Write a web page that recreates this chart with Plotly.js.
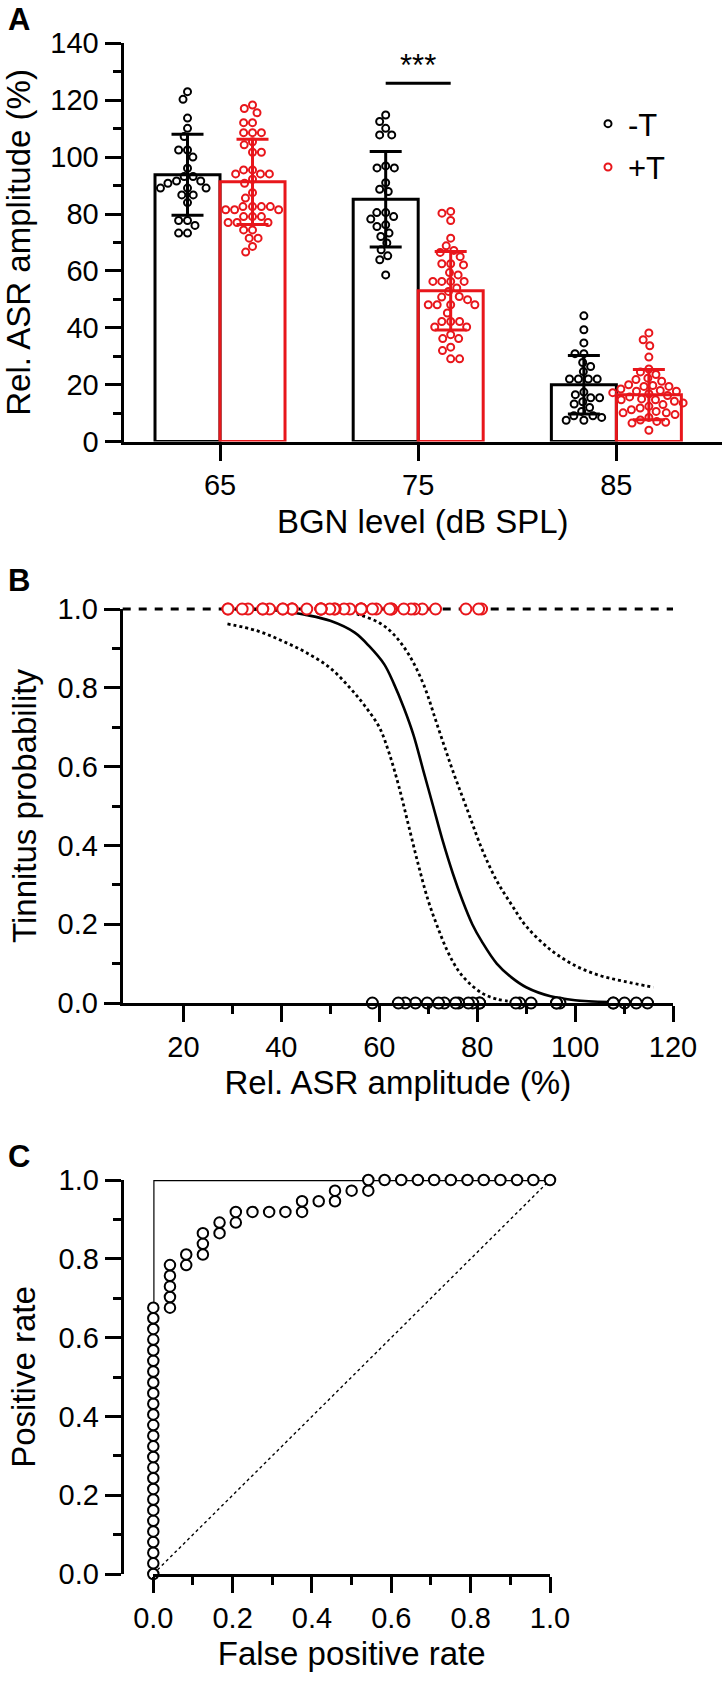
<!DOCTYPE html>
<html>
<head>
<meta charset="utf-8">
<script src="https://cdn.plot.ly/plotly-3.0.1.min.js"></script>
<style>
  body { margin: 0; background: #fff; }
  #chart { width: 723px; height: 1686px; }
</style>
</head>
<body>
<div id="chart"></div>
<script>
// ---- panel A: relative ASR amplitude per background noise level ----
var bgn_levels = ['65', '75', '85'];

var mean_noT = [93.8, 85.2, 20.0];
var sd_noT = [14.2, 16.8, 10.3];
var mean_T = [91.3, 53.0, 16.5];
var sd_T = [15.0, 13.8, 8.8];

// single animals, -T
var noT_65 = [123.0, 120.3, 113.7, 110.1, 107.2, 102.5, 102.5, 100.0, 96.1, 93.2, 93.2, 91.6, 91.6,
  90.8, 89.1, 89.1, 89.1, 86.7, 86.7, 84.0, 77.7, 77.7, 76.0, 73.3, 73.3];
var noT_75 = [114.8, 112.5, 110.1, 107.8, 107.8, 96.9, 96.2, 96.2, 91.0, 88.7, 87.9, 80.5, 80.5,
  79.1, 78.2, 76.2, 75.6, 73.3, 72.1, 69.8, 67.4, 65.3, 63.9, 58.6];
var noT_85 = [44.2, 39.3, 34.7, 30.9, 30.9, 27.8, 26.4, 24.6, 22.0, 22.0, 22.0, 22.0, 17.4, 16.5,
  15.4, 15.4, 14.0, 13.2, 12.0, 10.6, 9.1, 9.1, 8.5, 7.5, 7.5];

// single animals, +T
var T_65 = [118.3, 117.1, 115.6, 112.1, 112.1, 108.6, 108.6, 108.6, 105.4, 104.3, 101.7, 101.7,
  95.5, 95.5, 94.1, 94.1, 94.1, 92.2, 90.8, 87.5, 85.6, 82.6, 82.6, 82.6, 82.6, 81.5, 81.5, 81.5,
  79.1, 79.1, 79.1, 77.0, 77.0, 77.0, 74.4, 74.4, 71.5, 71.5, 68.6, 66.6];
var T_75 = [80.9, 80.3, 77.7, 71.5, 68.8, 67.2, 66.5, 65.0, 62.5, 62.5, 62.1, 59.4, 58.6, 56.3,
  56.3, 56.3, 56.3, 54.0, 52.8, 51.0, 50.8, 49.9, 48.1, 48.1, 48.1, 48.1, 45.2, 42.2, 42.2, 42.2,
  40.3, 40.3, 37.6, 36.2, 36.2, 33.2, 32.0, 29.1, 29.1];
var T_85 = [38.2, 35.8, 33.7, 29.7, 25.5, 24.5, 23.6, 22.3, 21.8, 21.2, 20.0, 19.7, 19.4, 19.4,
  18.5, 18.0, 17.7, 17.7, 17.2, 16.8, 16.2, 15.7, 15.0, 14.7, 14.7, 14.2, 13.6, 13.0, 12.4, 11.8,
  11.2, 10.6, 10.1, 10.1, 9.5, 8.5, 7.6, 7.1, 6.8, 6.5, 4.0];

// ---- panel B: logistic fit and its band ----
var fit_x = [29, 40, 45, 50, 55, 58, 61, 63, 65, 67, 69, 71, 73, 75, 77, 79, 81, 84, 87, 90, 95, 100, 108, 116];
var fit_y = [1.0, 0.995, 0.985, 0.97, 0.94, 0.905, 0.86, 0.81, 0.75, 0.68, 0.59, 0.50, 0.41, 0.33,
  0.26, 0.20, 0.155, 0.10, 0.065, 0.04, 0.017, 0.007, 0.002, 0.0005];
var ci_hi_x = [53, 56, 60, 63, 66, 69, 72, 75, 78, 81, 84, 87, 90, 95, 100, 105, 110, 116];
var ci_hi_y = [0.995, 0.985, 0.965, 0.935, 0.885, 0.81, 0.70, 0.59, 0.49, 0.39, 0.31, 0.25, 0.195,
  0.135, 0.095, 0.07, 0.055, 0.04];
var ci_lo_x = [29, 35, 40, 45, 50, 54, 57, 60, 62, 64, 66, 68, 70, 72, 74, 76, 78, 81, 84, 88];
var ci_lo_y = [0.962, 0.945, 0.92, 0.89, 0.85, 0.80, 0.755, 0.70, 0.635, 0.55, 0.45, 0.35, 0.26,
  0.19, 0.13, 0.085, 0.055, 0.025, 0.01, 0.002];

// ---- panel C: ROC ----
var roc_fpr = [0, 0, 0, 0, 0, 0, 0, 0, 0, 0, 0, 0, 0, 0, 0, 0, 0, 0, 0, 0, 0, 0, 0, 0, 0, 0,
  0.042, 0.042, 0.042, 0.042, 0.042, 0.083, 0.083, 0.125, 0.125, 0.125, 0.167, 0.167, 0.208, 0.208,
  0.25, 0.292, 0.333, 0.375, 0.375, 0.417, 0.458, 0.458, 0.5, 0.542, 0.542,
  0.583, 0.625, 0.667, 0.708, 0.75, 0.792, 0.833, 0.875, 0.917, 0.958, 1.0];
var roc_tpr = [0, 0.027, 0.054, 0.081, 0.108, 0.135, 0.162, 0.189, 0.216, 0.243, 0.270, 0.297, 0.324,
  0.351, 0.378, 0.405, 0.432, 0.459, 0.486, 0.514, 0.541, 0.568, 0.595, 0.622, 0.649, 0.676,
  0.676, 0.703, 0.730, 0.757, 0.784, 0.784, 0.811, 0.811, 0.838, 0.865, 0.865, 0.892, 0.892, 0.919,
  0.919, 0.919, 0.919, 0.919, 0.946, 0.946, 0.946, 0.973, 0.973, 0.973, 1.0,
  1.0, 1.0, 1.0, 1.0, 1.0, 1.0, 1.0, 1.0, 1.0, 1.0, 1.0];
var ideal_fpr = [0, 0, 1];
var ideal_tpr = [0, 1, 1];
var chance_fpr = [0, 1];
var chance_tpr = [0, 1];

// page geometry (px)
var W = 723, H = 1686;
var FONT = 'Arial, "Liberation Sans", sans-serif';
var RED = '#e8161b';

var a_x = [123.5, 722], a_y = [43.3, 441.6], a_xr = [-0.487, 2.533], a_yr = [0, 140];
var b_x = [122.7, 673], b_y = [609, 1003], b_xr = [7.6, 120];
var c_yaxis = 121.7, c_x = [153.3, 550], c_y = [1180, 1574];

function xdom(p) { return [p[0] / W, p[1] / W]; }
function ydom(p) { return [1 - p[1] / H, 1 - p[0] / H]; }

var half_bar = 0.164;

// simple beeswarm, worked out in pixels, returns x in data units
function swarm(values, center, pxX, pxY, d) {
  var order = values.map(function (v, i) { return i; })
    .sort(function (a, b) { return values[b] - values[a]; });
  var placed = [];
  var xs = new Array(values.length);
  order.forEach(function (i) {
    var y = values[i] * pxY;
    var cands = [0];
    placed.forEach(function (p) {
      var dy = Math.abs(p.y - y);
      if (dy < d) {
        var dx = Math.sqrt(d * d - dy * dy);
        cands.push(p.x + dx, p.x - dx);
      }
    });
    cands.sort(function (a, b) { return Math.abs(a) - Math.abs(b) || a - b; });
    var x = cands.find(function (c) {
      return placed.every(function (p) { return Math.hypot(p.x - c, p.y - y) >= d - 1e-6; });
    });
    placed.push({ x: x, y: y });
    xs[i] = center + x / pxX;
  });
  return xs;
}

var pxX = (a_x[1] - a_x[0]) / (a_xr[1] - a_xr[0]);
var pxY = (a_y[1] - a_y[0]) / (a_yr[1] - a_yr[0]);

var groups_noT = [noT_65, noT_75, noT_85];
var groups_T = [T_65, T_75, T_85];

var data = [];

data.push({
  type: 'bar', x: [0, 1, 2], y: mean_noT, width: 2 * half_bar, offset: -2 * half_bar,
  marker: { color: 'rgba(0,0,0,0)', line: { color: 'black', width: 3 } },
  error_y: { type: 'data', array: sd_noT, color: 'black', thickness: 3, width: 16 },
  showlegend: false, hoverinfo: 'skip', xaxis: 'x', yaxis: 'y'
});
data.push({
  type: 'bar', x: [0, 1, 2], y: mean_T, width: 2 * half_bar, offset: 0,
  marker: { color: 'rgba(0,0,0,0)', line: { color: RED, width: 3 } },
  error_y: { type: 'data', array: sd_T, color: RED, thickness: 3, width: 16 },
  showlegend: false, hoverinfo: 'skip', xaxis: 'x', yaxis: 'y'
});

function swarmTrace(groups, sign, color, name) {
  var xs = [], ys = [];
  groups.forEach(function (vals, g) {
    xs = xs.concat(swarm(vals, g + sign * half_bar, pxX, pxY, 8.9));
    ys = ys.concat(vals);
  });
  return {
    type: 'scatter', mode: 'markers', x: xs, y: ys, name: name, showlegend: true,
    marker: { symbol: 'circle-open', size: 7, color: color, line: { width: 2, color: color } },
    cliponaxis: false, xaxis: 'x', yaxis: 'y'
  };
}
data.push(swarmTrace(groups_noT, -1, 'black', '-T'));
data.push(swarmTrace(groups_T, 1, RED, '+T'));

// panel B
data.push({ type: 'scatter', mode: 'lines', x: ci_lo_x, y: ci_lo_y, line: { color: 'black', width: 2.8, dash: 'dot', shape: 'spline' },
  showlegend: false, xaxis: 'x2', yaxis: 'y2' });
data.push({ type: 'scatter', mode: 'lines', x: ci_hi_x, y: ci_hi_y, line: { color: 'black', width: 2.8, dash: 'dot', shape: 'spline' },
  showlegend: false, xaxis: 'x2', yaxis: 'y2' });
data.push({ type: 'scatter', mode: 'lines', x: fit_x, y: fit_y, line: { color: 'black', width: 2.6, shape: 'spline' },
  showlegend: false, xaxis: 'x2', yaxis: 'y2' });
data.push({ type: 'scatter', mode: 'markers', x: noT_75, y: noT_75.map(function () { return 0; }),
  marker: { symbol: 'circle', size: 11, color: 'white', line: { width: 2, color: 'black' } },
  cliponaxis: false, showlegend: false, xaxis: 'x2', yaxis: 'y2' });
data.push({ type: 'scatter', mode: 'markers', x: T_75, y: T_75.map(function () { return 1; }),
  marker: { symbol: 'circle', size: 11, color: 'white', line: { width: 2, color: RED } },
  cliponaxis: false, showlegend: false, xaxis: 'x2', yaxis: 'y2' });

// panel C
data.push({ type: 'scatter', mode: 'lines', x: chance_fpr, y: chance_tpr, line: { color: 'black', width: 1.4, dash: 'dot' },
  showlegend: false, xaxis: 'x3', yaxis: 'y3' });
data.push({ type: 'scatter', mode: 'lines', x: ideal_fpr, y: ideal_tpr, line: { color: 'black', width: 2.4 },
  showlegend: false, xaxis: 'x3', yaxis: 'y3' });
data.push({ type: 'scatter', mode: 'markers', x: roc_fpr, y: roc_tpr,
  marker: { symbol: 'circle', size: 10.5, color: 'white', line: { width: 2, color: 'black' } },
  cliponaxis: false, showlegend: false, xaxis: 'x3', yaxis: 'y3' });

var tickFont = { family: FONT, size: 29, color: 'black' };
var titleFont = { family: FONT, size: 33, color: 'black' };

function axisBase(extra) {
  var ax = {
    showline: true, linewidth: 3, linecolor: 'black', ticks: 'outside', ticklen: 16, tickwidth: 3,
    tickcolor: 'black', showgrid: false, zeroline: false, tickfont: tickFont, fixedrange: true
  };
  for (var k in extra) ax[k] = extra[k];
  return ax;
}
var minor = function (dt) { return { ticks: 'outside', ticklen: 8, tickwidth: 3, tickcolor: 'black', dtick: dt, showgrid: false }; };

var layout = {
  width: W, height: H, margin: { l: 0, r: 0, t: 0, b: 0 },
  paper_bgcolor: 'white', plot_bgcolor: 'white',
  font: { family: FONT, color: 'black' },
  showlegend: true,
  legend: { x: 588 / W, y: 1 - 97 / H, xanchor: 'left', yanchor: 'top', font: { family: FONT, size: 31 },
    bgcolor: 'rgba(0,0,0,0)', itemsizing: 'trace' },

  xaxis: axisBase({ domain: xdom(a_x), range: a_xr, anchor: 'y', tickvals: [0, 1, 2], ticktext: bgn_levels,
    title: { text: 'BGN level (dB SPL)', font: titleFont, standoff: 10 } }),
  yaxis: axisBase({ domain: ydom(a_y), range: a_yr, anchor: 'x', dtick: 20, minor: minor(10),
    title: { text: 'Rel. ASR amplitude (%)', font: titleFont, standoff: 12 } }),

  xaxis2: axisBase({ domain: xdom(b_x), range: b_xr, anchor: 'y2', tick0: 0, dtick: 20,
    minor: { ticks: 'outside', ticklen: 8, tickwidth: 3, tickcolor: 'black', tickmode: 'array', tickvals: [30, 50, 70, 90, 110] },
    title: { text: 'Rel. ASR amplitude (%)', font: titleFont, standoff: 10 } }),
  yaxis2: axisBase({ domain: ydom(b_y), range: [0, 1], anchor: 'x2', dtick: 0.2, tickformat: '.1f', minor: minor(0.1),
    title: { text: 'Tinnitus probability', font: titleFont, standoff: 12 } }),

  xaxis3: axisBase({ domain: xdom(c_x), range: [0, 1], anchor: 'y3', dtick: 0.2, tickformat: '.1f', minor: minor(0.1),
    title: { text: 'False positive rate', font: titleFont, standoff: 10 } }),
  yaxis3: axisBase({ domain: ydom(c_y), range: [0, 1], anchor: 'free', position: c_yaxis / W, dtick: 0.2, tickformat: '.1f',
    minor: minor(0.1), title: { text: 'Positive rate', font: titleFont, standoff: 12 } }),

  shapes: [
    // significance bar between -T and +T at 75 dB
    { type: 'line', xref: 'x', yref: 'y', x0: 1 - half_bar, x1: 1 + half_bar, y0: 126, y1: 126,
      line: { color: 'black', width: 3 } },
    // reference line at probability 1 (paper refs so it is not clipped at the plot edge)
    { type: 'line', xref: 'paper', yref: 'paper', x0: b_x[0] / W, x1: b_x[1] / W, y0: 1 - b_y[0] / H, y1: 1 - b_y[0] / H,
      layer: 'below', line: { color: 'black', width: 3, dash: '8px,8px' } }
  ],
  annotations: [
    { text: '***', xref: 'x', yref: 'y', x: 1, y: 126, yanchor: 'bottom', yshift: -2, showarrow: false,
      font: { family: FONT, size: 31, color: 'black' } },
    { text: '<b>A</b>', xref: 'paper', yref: 'paper', x: 6 / W, y: 1 - 20 / H, xanchor: 'left', yanchor: 'middle',
      showarrow: false, font: { family: FONT, size: 31, color: 'black' } },
    { text: '<b>B</b>', xref: 'paper', yref: 'paper', x: 6 / W, y: 1 - 581 / H, xanchor: 'left', yanchor: 'middle',
      showarrow: false, font: { family: FONT, size: 31, color: 'black' } },
    { text: '<b>C</b>', xref: 'paper', yref: 'paper', x: 6 / W, y: 1 - 1156 / H, xanchor: 'left', yanchor: 'middle',
      showarrow: false, font: { family: FONT, size: 31, color: 'black' } }
  ]
};

Plotly.newPlot('chart', data, layout, { displayModeBar: false, staticPlot: true });
</script>
</body>
</html>
